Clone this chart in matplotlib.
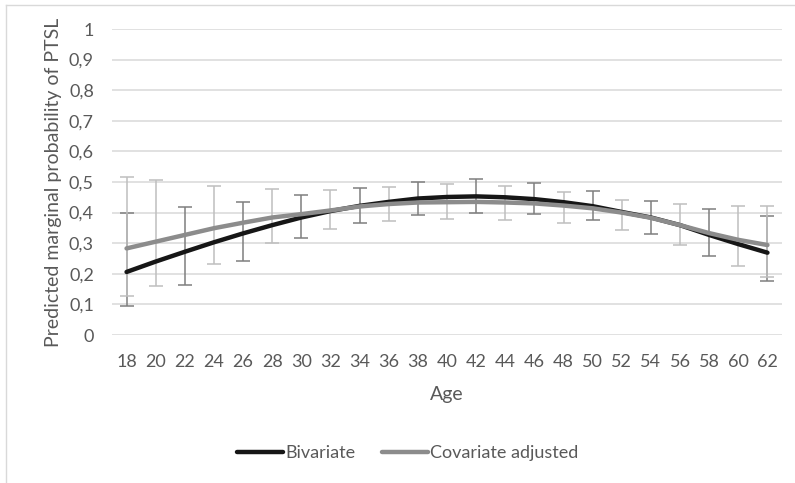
import numpy as np
import matplotlib
matplotlib.use("Agg")
import matplotlib.pyplot as plt
from matplotlib.lines import Line2D

plt.rcParams['font.family'] = ['Lato', 'DejaVu Sans']

# ---- data ----
ages = list(range(18, 63, 2))

bivariate = [0.206, 0.240, 0.272, 0.303, 0.332, 0.359, 0.384, 0.405, 0.422,
             0.435, 0.446, 0.451, 0.453, 0.450, 0.444, 0.434, 0.421, 0.402,
             0.384, 0.359, 0.327, 0.297, 0.269]
covariate = [0.283, 0.305, 0.327, 0.349, 0.367, 0.384, 0.395, 0.407, 0.420,
             0.428, 0.433, 0.434, 0.435, 0.433, 0.430, 0.423, 0.414, 0.400,
             0.383, 0.359, 0.333, 0.311, 0.294]

# confidence intervals (only drawn at some ages)
biv_ci_ages = [18, 22, 26, 30, 34, 38, 42, 46, 50, 54, 58, 62]
biv_ci_low  = [0.094, 0.162, 0.243, 0.317, 0.367, 0.392, 0.400, 0.395, 0.376, 0.330, 0.258, 0.175]
biv_ci_high = [0.400, 0.418, 0.436, 0.456, 0.479, 0.500, 0.509, 0.497, 0.469, 0.437, 0.411, 0.390]

cov_ci_ages = [18, 20, 24, 28, 32, 36, 40, 44, 48, 52, 56, 60, 62]
cov_ci_low  = [0.128, 0.160, 0.232, 0.300, 0.348, 0.373, 0.379, 0.376, 0.367, 0.343, 0.295, 0.227, 0.190]
cov_ci_high = [0.516, 0.505, 0.487, 0.477, 0.475, 0.484, 0.492, 0.486, 0.467, 0.442, 0.427, 0.422, 0.423]

yticks = [0, 0.1, 0.2, 0.3, 0.4, 0.5, 0.6, 0.7, 0.8, 0.9, 1]
ytick_labels = ['0', '0,1', '0,2', '0,3', '0,4', '0,5', '0,6', '0,7', '0,8', '0,9', '1']

# ---- figure ----
W, H = 795, 483
fig = plt.figure(figsize=(W / 100, H / 100), dpi=100)
ax = fig.add_axes([112 / W, 1 - 335 / H, (782 - 112) / W, (335 - 29) / H])

xpos = np.arange(len(ages))
idx = {a: i for i, a in enumerate(ages)}


def draw_ci(ci_ages, lo, hi, series, color):
    xs = np.array([idx[a] for a in ci_ages])
    ys = np.array([series[idx[a]] for a in ci_ages])
    yerr = [ys - np.array(lo), np.array(hi) - ys]
    ax.errorbar(xs, ys, yerr=yerr, fmt='none', ecolor=color, elinewidth=1.1,
                capsize=5, capthick=1.1, zorder=2)


draw_ci(biv_ci_ages, biv_ci_low, biv_ci_high, bivariate, '#7f7f7f')
ax.plot(xpos, bivariate, color='#161616', lw=3.2, solid_capstyle='round',
        solid_joinstyle='round', zorder=3, label='Bivariate')
draw_ci(cov_ci_ages, cov_ci_low, cov_ci_high, covariate, '#bfbfbf')
ax.plot(xpos, covariate, color='#8c8c8c', lw=3.2, solid_capstyle='round',
        solid_joinstyle='round', zorder=4, label='Covariate adjusted')

ax.set_xlim(-0.5, len(ages) - 0.5)
ax.set_ylim(0, 1)
ax.set_xticks(xpos)
ax.set_xticklabels([str(a) for a in ages])
ax.set_yticks(yticks)
ax.set_yticklabels(ytick_labels)
ax.tick_params(axis='both', length=0, labelsize=13, labelcolor='#595959')
ax.tick_params(axis='x', pad=14)
ax.tick_params(axis='y', pad=13)
ax.grid(axis='y', color='#d9d9d9', lw=1.1)
ax.set_axisbelow(True)
for s in ax.spines.values():
    s.set_visible(False)

ax.set_xlabel('Age', fontsize=14, color='#595959', labelpad=11)
ax.set_ylabel('Predicted marginal probability of PTSL', fontsize=14,
              color='#595959', labelpad=5)

fig.legend(loc='center', bbox_to_anchor=(408 / W, 1 - 453 / H), ncol=2,
           frameon=False, fontsize=13, handlelength=2.5, handletextpad=0.15,
           columnspacing=1.5, labelcolor='#595959')

# chart area border (left and top edges visible)
fig.add_artist(Line2D([6 / W, 6 / W], [0, 1 - 5 / H], color='#d9d9d9', lw=1))
fig.add_artist(Line2D([6 / W, 1], [1 - 5 / H, 1 - 5 / H], color='#d9d9d9', lw=1))

fig.savefig('out.png', dpi=100)
